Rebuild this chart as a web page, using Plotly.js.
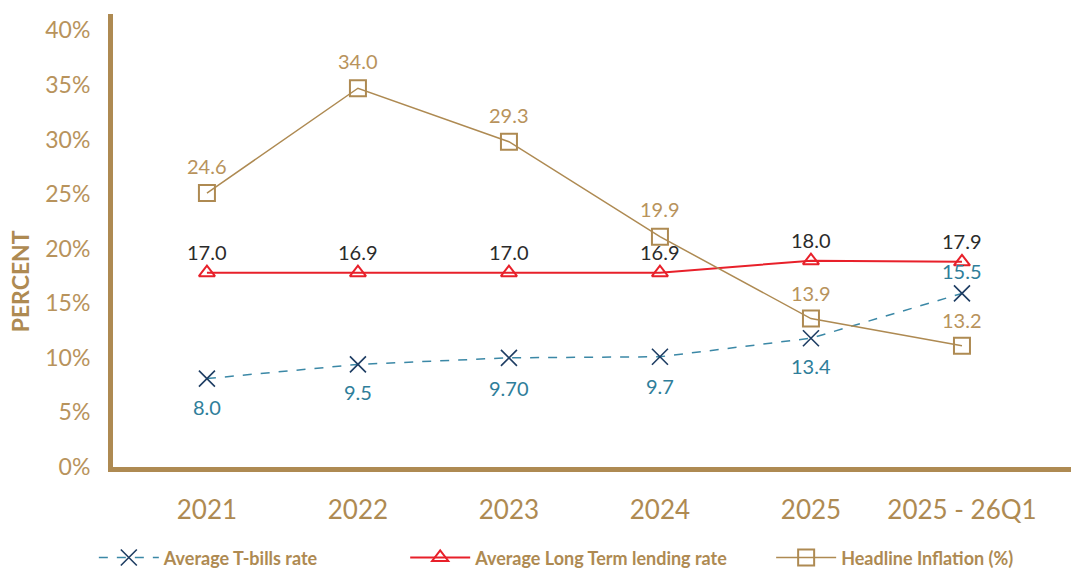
<!DOCTYPE html>
<html>
<head>
<meta charset="utf-8">
<script src="https://cdn.plot.ly/plotly-3.0.1.min.js"></script>
<style>
  html, body { margin: 0; padding: 0; background: #fff; }
  #graf { width: 1071px; height: 568px; }
</style>
</head>
<body>
<div id="graf"></div>
<script>
// categories and series (y = plotted position, labels = printed values)
var years = ["2021", "2022", "2023", "2024", "2025", "2025 - 26Q1"];

var tbills = [8.1, 9.4, 10.0, 10.1, 11.8, 15.9];
var tbillsLabels = ["8.0", "9.5", "9.70", "9.7", "13.4", "15.5"];

var lending = [17.8, 17.8, 17.8, 17.8, 18.9, 18.8];
var lendingLabels = ["17.0", "16.9", "17.0", "16.9", "18.0", "17.9"];

var inflation = [25.1, 34.7, 29.8, 21.1, 13.6, 11.1];
var inflationLabels = ["24.6", "34.0", "29.3", "19.9", "13.9", "13.2"];

var gold = "#AE8A52";
var fontFam = "Lato, 'Open Sans', sans-serif";

var traceT = {
    x: years, y: tbills, name: "Average T-bills rate",
    type: "scatter", mode: "lines+markers",
    line: { color: "#3B88A6", width: 1.5, dash: "dash" },
    marker: { symbol: "x-thin-open", size: 16, color: "#1E3D63", line: { color: "#1E3D63", width: 1.6 } },
    legend: "legend"
};

var traceL = {
    x: years, y: lending, name: "Average Long Term lending rate",
    type: "scatter", mode: "lines+markers",
    line: { color: "#E8202A", width: 2 },
    marker: { symbol: "triangle-up-open", size: 14, color: "#E8202A", line: { color: "#E8202A", width: 2 } },
    legend: "legend2"
};

var traceI = {
    x: years, y: inflation, name: "Headline Inflation (%)",
    type: "scatter", mode: "lines+markers",
    line: { color: gold, width: 1.5 },
    marker: { symbol: "square-open", size: 16, color: gold, line: { color: gold, width: 2 } },
    legend: "legend3"
};

var data = [traceT, traceL, traceI];

// value labels (x given as category index so "2021" is not read as a number)
var notes = [];
function addLabels(ys, labels, color, shifts) {
    for (var i = 0; i < years.length; i++) {
        notes.push({
            x: i, y: ys[i], text: labels[i], showarrow: false,
            yshift: shifts[i], font: { family: fontFam, size: 20, color: color }
        });
    }
}
addLabels(inflation, inflationLabels, "#B8935C", [27, 27, 27, 28, 26, 26]);
addLabels(lending, lendingLabels, "#2b2b2b", [21, 21, 21, 21, 21, 21]);
addLabels(tbills, tbillsLabels, "#2F7E9A", [-28, -28, -30, -29, -28, 22]);

notes.push({
    xref: "paper", yref: "paper", x: -0.097, y: 0.41, xanchor: "center", yanchor: "middle",
    text: "<b>PERCENT</b>", showarrow: false, textangle: -90,
    font: { family: fontFam, size: 23, color: gold }
});

var legendBase = {
    orientation: "h", yref: "container", y: 0.018, yanchor: "middle", xanchor: "left",
    itemwidth: 60, bgcolor: "rgba(0,0,0,0)",
    font: { family: fontFam, size: 18, color: gold, weight: "bold" }
};

var layout = {
    width: 1071, height: 568,
    margin: { l: 113, r: 0, t: 14, b: 101 },
    paper_bgcolor: "#fff", plot_bgcolor: "#fff",
    showlegend: true,
    xaxis: {
        type: "category", range: [-0.622, 5.722],
        showline: true, linecolor: gold, linewidth: 5,
        showgrid: false, zeroline: false,
        ticks: "outside", ticklen: 16, tickcolor: "rgba(0,0,0,0)",
        tickfont: { family: fontFam, size: 26, color: gold }
    },
    yaxis: {
        range: [0, 41.5], tickvals: [0, 5, 10, 15, 20, 25, 30, 35, 40],
        ticktext: ["0%", "5%", "10%", "15%", "20%", "25%", "30%", "35%", "40%"],
        showline: true, linecolor: gold, linewidth: 5,
        showgrid: false, zeroline: false,
        ticks: "outside", ticklen: 13, tickcolor: "rgba(0,0,0,0)",
        tickfont: { family: fontFam, size: 23, color: "#B8935C" }
    },
    legend: Object.assign({}, legendBase, { x: -0.02 }),
    legend2: Object.assign({}, legendBase, { x: 0.305 }),
    legend3: Object.assign({}, legendBase, { x: 0.687 }),
    annotations: notes
};

Plotly.newPlot("graf", data, layout, { staticPlot: true });
</script>
</body>
</html>
